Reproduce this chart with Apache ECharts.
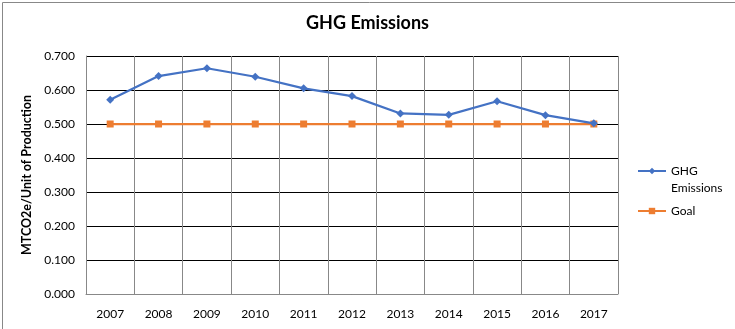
<!DOCTYPE html>
<html><head><meta charset="utf-8">
<script src="https://cdn.jsdelivr.net/npm/echarts@6/dist/echarts.min.js"></script>
<style>html,body{margin:0;padding:0;background:#fff}#c{width:735px;height:329px}</style>
</head><body><div id="c"></div>
<script>
const years = ['2007','2008','2009','2010','2011','2012','2013','2014','2015','2016','2017'];
const ghgEmissions = [0.571, 0.641, 0.664, 0.639, 0.605, 0.582, 0.531, 0.527, 0.567, 0.526, 0.502];
const goal = [0.5, 0.5, 0.5, 0.5, 0.5, 0.5, 0.5, 0.5, 0.5, 0.5, 0.5];
const seriesNames = ['GHG Emissions', 'Goal'];
const font = 'Lato, "Open Sans", sans-serif';
const chart = echarts.init(document.getElementById('c'));
chart.setOption({
  animation: false,
  textStyle: {fontFamily: font},
  title: {text: 'GHG Emissions', left: 'center', top: 9,
    textStyle: {fontSize: 18, fontWeight: 'bold', color: '#000', fontFamily: font}},
  graphic: [{type: 'rect', left: 0, top: 0, shape: {width: 734, height: 328},
    style: {fill: 'none', stroke: '#888', lineWidth: 1}, z: -1}],
  grid: {left: 86, right: 117, top: 56, bottom: 35},
  legend: {orient: 'vertical', left: 632, top: 143, itemWidth: 28, itemHeight: 8, itemGap: 11,
    data: seriesNames,
    formatter: n => n === 'GHG Emissions' ? '{a|GHG\nEmissions}' : '{b|' + n + '}',
    textStyle: {fontSize: 12, color: '#000', fontFamily: font,
      rich: {a: {fontSize: 12, lineHeight: 17, padding: [17, 0, 0, 0], fontFamily: font},
             b: {fontSize: 12, lineHeight: 17, fontFamily: font}}}},
  xAxis: {type: 'category', data: years, boundaryGap: true,
    axisLine: {lineStyle: {color: '#888'}}, axisTick: {show: true, length: 0},
    axisLabel: {fontSize: 12, color: '#000', margin: 14, fontFamily: font},
    splitLine: {show: true, lineStyle: {color: '#888'}}},
  yAxis: {type: 'value', min: 0, max: 0.7, interval: 0.1,
    name: 'MTCO2e/Unit of Production', nameLocation: 'middle', nameGap: 52,
    nameTextStyle: {fontSize: 12.5, fontWeight: 'bold', color: '#000', fontFamily: font},
    axisLine: {show: true, lineStyle: {color: '#888'}}, axisTick: {show: false},
    axisLabel: {fontSize: 12, color: '#000', margin: 11, formatter: v => v.toFixed(3), fontFamily: font},
    splitLine: {show: true, lineStyle: {color: '#000'}}},
  series: [
    {name: seriesNames[0], type: 'line', data: ghgEmissions, symbol: 'diamond', symbolSize: 8,
      itemStyle: {color: '#4472C4'}, lineStyle: {width: 2.25, color: '#4472C4'}, z: 3},
    {name: seriesNames[1], type: 'line', data: goal, symbol: 'rect', symbolSize: 7,
      itemStyle: {color: '#ED7D31'}, lineStyle: {width: 2.25, color: '#ED7D31'}, z: 2}
  ]
});
</script></body></html>
